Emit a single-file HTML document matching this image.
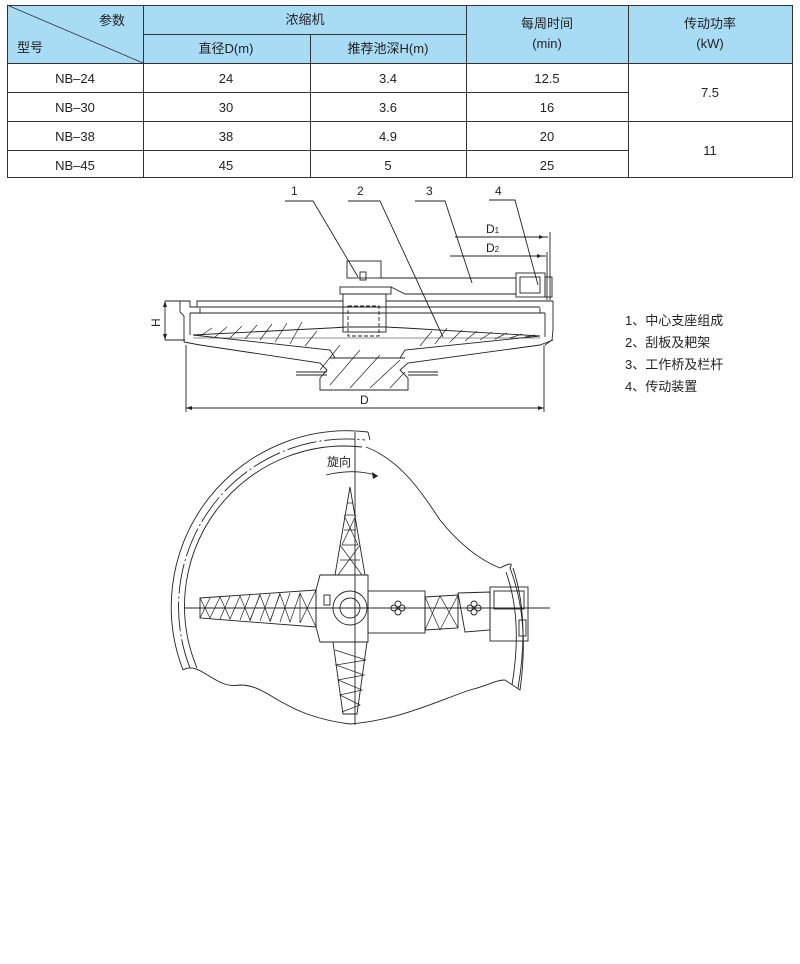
<!DOCTYPE html>
<html><head><meta charset="utf-8"><style>
body{margin:0;background:#fff;width:800px;height:964px;position:relative;font-family:"Liberation Sans","Noto Sans CJK SC",sans-serif;}
svg{position:absolute;left:0;top:0}
</style></head><body>
<svg width="800" height="964" viewBox="0 0 800 964" font-family="Liberation Sans, Noto Sans CJK SC, sans-serif">
<!-- table -->
<rect x="7" y="5" width="786" height="58" fill="#a8dcf5"/>
<g stroke="#333" stroke-width="1" fill="none">
<rect x="7.5" y="5.5" width="785" height="172"/>
<line x1="7" y1="63.5" x2="793" y2="63.5"/>
<line x1="143" y1="34.5" x2="466" y2="34.5"/>
<line x1="7" y1="92.5" x2="628" y2="92.5"/>
<line x1="7" y1="121.5" x2="793" y2="121.5"/>
<line x1="7" y1="150.5" x2="628" y2="150.5"/>
<line x1="143.5" y1="5" x2="143.5" y2="178"/>
<line x1="310.5" y1="34" x2="310.5" y2="178"/>
<line x1="466.5" y1="5" x2="466.5" y2="178"/>
<line x1="628.5" y1="5" x2="628.5" y2="178"/>
<line x1="7" y1="5" x2="143" y2="63" stroke-width="0.8"/>
</g>
<g font-size="13" fill="#222" text-anchor="middle">
<text x="112" y="25">参数</text>
<text x="30" y="52">型号</text>
<text x="305" y="24">浓缩机</text>
<text x="226" y="53">直径D(m)</text>
<text x="388" y="53">推荐池深H(m)</text>
<text x="547" y="28">每周时间</text>
<text x="547" y="48">(min)</text>
<text x="710" y="28">传动功率</text>
<text x="710" y="48">(kW)</text>
<text x="75" y="83">NB–24</text><text x="226" y="83">24</text><text x="388" y="83">3.4</text><text x="547" y="83">12.5</text>
<text x="75" y="112">NB–30</text><text x="226" y="112">30</text><text x="388" y="112">3.6</text><text x="547" y="112">16</text>
<text x="75" y="141">NB–38</text><text x="226" y="141">38</text><text x="388" y="141">4.9</text><text x="547" y="141">20</text>
<text x="75" y="170">NB–45</text><text x="226" y="170">45</text><text x="388" y="170">5</text><text x="547" y="170">25</text>
<text x="710" y="97">7.5</text><text x="710" y="155">11</text>
</g>
<!-- side view -->
<g stroke="#222" stroke-width="0.9" fill="none">
<polyline points="285,201 313,201 358,277"/>
<polyline points="348,201 380,201 443,337"/>
<polyline points="415,201 445,201 472,283"/>
<polyline points="489,200 515,200 538,285"/>
<line x1="455" y1="237" x2="548" y2="237"/><line x1="450" y1="256" x2="546" y2="256"/>
<line x1="550" y1="232" x2="550" y2="300"/><line x1="547" y1="252" x2="547" y2="300"/>
<rect x="347" y="261" width="34" height="17"/>
<rect x="360" y="272" width="6" height="8"/>
<rect x="340" y="287" width="51" height="7"/>
<rect x="343" y="294" width="43" height="38"/>
<rect x="348" y="306" width="31" height="30" stroke-dasharray="4,2"/>
<line x1="381" y1="278" x2="516" y2="278"/>
<polyline points="391,287 405,294 516,294"/>
<rect x="516" y="273" width="29" height="24"/><rect x="520" y="277" width="20" height="16"/>
<rect x="545" y="277" width="7" height="20"/>
<polyline points="180,301 190,301 190,307 197,307 197,301 343,301"/>
<line x1="386" y1="301" x2="553" y2="301"/>
<line x1="197" y1="307" x2="540" y2="307"/>
<line x1="200" y1="308" x2="200" y2="313"/><line x1="540" y1="308" x2="540" y2="313"/>
<line x1="190" y1="313" x2="545" y2="313"/>
<polyline points="180,301 180,312 184,316 184,342 "/>
<polyline points="553,301 553,330 552,340 545,345"/>
<polyline points="190,313 190,335 "/>
<polyline points="545,313 545,337"/>
<polyline points="184,342 200,345 320,363 327,370 320,378 320,390 408,390 408,378 400,370 408,363 540,345 553,340"/>
<polyline points="193,335 330,328 347,327 386,327 405,328 540,336"/>
<polyline points="193,335 330,350 335,358"/><polyline points="540,336 405,350 400,358"/>
<line x1="193" y1="338" x2="540" y2="338" stroke-width="0.5"/>
<line x1="330" y1="358" x2="405" y2="358"/>
<line x1="296" y1="372" x2="327" y2="372"/><line x1="296" y1="375" x2="327" y2="375"/>
<line x1="408" y1="372" x2="438" y2="372"/><line x1="408" y1="375" x2="438" y2="375"/>
<line x1="165" y1="301" x2="185" y2="301"/><line x1="165" y1="340" x2="185" y2="340"/>
<line x1="165" y1="301" x2="165" y2="340"/>
<line x1="186" y1="345" x2="186" y2="412"/><line x1="544" y1="345" x2="544" y2="412"/>
<line x1="186" y1="408" x2="544" y2="408"/>
</g>
<g stroke="#222" stroke-width="0.7">
<path d="M200,336 L212,328 M215,337 L227,327 M230,338 L242,326 M245,339 L257,325 M260,340 L272,324 M275,342 L287,323 M290,344 L302,322 M305,346 L317,331 M420,346 L432,331 M435,344 L447,328 M450,342 L462,330 M465,341 L477,331 M480,340 L492,332 M495,339 L507,333 M510,338 L522,334 M525,337 L535,335"/>
<path d="M320,370 L340,345 M330,385 L360,350 M350,388 L380,355 M370,388 L400,360 M390,388 L405,372"/>
</g>
<g fill="#222"><polygon points="544,237 539,235 539,239"/><polygon points="542,256 537,254 537,258"/>
<polygon points="165,301 163,307 167,307"/><polygon points="165,340 163,334 167,334"/>
<polygon points="186,408 192,406 192,410"/><polygon points="544,408 538,406 538,410"/></g>
<g font-size="12" fill="#222">
<text x="291" y="195">1</text><text x="357" y="195">2</text><text x="426" y="195">3</text><text x="495" y="195">4</text>
<text x="486" y="233">D<tspan font-size="8">1</tspan></text><text x="486" y="252">D<tspan font-size="8">2</tspan></text>
<text x="150" y="325" transform="rotate(-90 156 321)">H</text>
<text x="360" y="404">D</text>
</g>
<g font-size="13" fill="#222">
<text x="625" y="325">1、中心支座组成</text><text x="625" y="347">2、刮板及耙架</text>
<text x="625" y="369">3、工作桥及栏杆</text><text x="625" y="391">4、传动装置</text>
</g>
<!-- plan view -->
<g stroke="#222" stroke-width="0.9" fill="none">
<path d="M183,670 A176,176 0 0 1 368,432"/>
<path d="M190,668 A168,168 0 0 1 365,440" stroke-dasharray="30,3,2,3"/>
<path d="M197,668 A160,160 0 0 1 362,447"/>
<path d="M368,432 L370,440 M355,432 L355,725"/>
<path d="M366,447 C400,460 420,490 440,520 C460,545 480,560 500,568"/>
<path d="M183,670 C200,660 215,690 240,685 C270,685 280,715 350,724 C400,720 440,700 470,690 C490,685 495,680 505,680"/>
<path d="M500,568 Q515,560 510,568 Q530,620 520,690 L505,680"/>
<path d="M506,572 Q523,620 512,685"/><path d="M513,568 Q530,620 518,688"/>
<line x1="185" y1="608" x2="550" y2="608"/>
<polygon points="350,487 365,575 335,575"/>
<polygon points="200,598 316,590 316,627 200,618"/>
<polygon points="320,575 368,575 368,642 320,642 316,627 316,590"/>
<polygon points="333,642 367,642 357,714 343,714"/>
<circle cx="350" cy="608" r="17"/><circle cx="350" cy="608" r="10"/>
<rect x="324" y="595" width="6" height="10"/>
<rect x="368" y="591" width="57" height="42"/>
<polygon points="425,597 458,595 458,628 425,630"/>
<polygon points="458,593 490,592 490,630 465,632"/>
<rect x="490" y="587" width="38" height="54"/><rect x="494" y="591" width="30" height="18"/>
<rect x="519" y="620" width="7" height="16"/>
<circle cx="398" cy="604" r="3"/><circle cx="402" cy="608" r="3"/><circle cx="398" cy="612" r="3"/><circle cx="394" cy="608" r="3"/>
<circle cx="474" cy="604" r="3"/><circle cx="478" cy="608" r="3"/><circle cx="474" cy="612" r="3"/><circle cx="470" cy="608" r="3"/>
<path d="M326,475 Q355,468 378,476"/>
</g>
<g stroke="#222" stroke-width="0.7" fill="none">
<path d="M200,598 L210,618 L220,597 L230,619 L240,596 L250,620 L260,595 L270,621 L280,594 L290,622 L300,593 L316,627 M316,590 L300,623 M300,593 L300,623 M210,598 L200,618 M220,597 L210,618 M230,596 L220,619 M240,596 L230,619 M250,595 L240,620 M260,594 L250,621 M270,594 L260,621 M280,593 L270,622 M290,593 L280,622"/>
<path d="M340,560 L360,560 M342,545 L358,545 M344,530 L356,530 M346,515 L354,515 M347,503 L353,503 M338,575 L360,545 M362,575 L340,545 M342,545 L356,515 M358,545 L344,515"/>
<path d="M335,650 L366,660 L336,665 L364,675 L338,680 L362,690 L340,695 L360,705 L342,712"/>
<path d="M425,597 L440,630 L458,595 M425,630 L440,596 L458,628"/>
</g>
<polygon points="378,476 372,472 373,479" fill="#222"/>
<text x="327" y="466" font-size="12" fill="#222">旋向</text>
</svg>
</body></html>
